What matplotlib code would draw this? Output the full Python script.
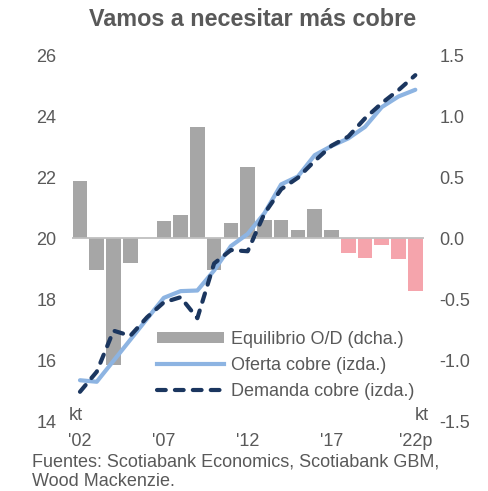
import matplotlib
matplotlib.use("Agg")
import matplotlib.pyplot as plt
from matplotlib.patches import Patch
from matplotlib.lines import Line2D

plt.rcParams['font.family'] = ['Liberation Sans', 'DejaVu Sans']

years = list(range(2002, 2023))
tick_labels = ["'02", "'07", "'12", "'17", "'22p"]
balance = [0.47, -0.26, -1.04, -0.20, 0.0, 0.14, 0.19, 0.92, -0.26, 0.13, 0.59,
           0.15, 0.15, 0.07, 0.24, 0.07, -0.12, -0.16, -0.05, -0.17, -0.43]
supply = [15.34, 15.29, 15.98, 16.67, 17.36, 18.05, 18.27, 18.29, 18.95, 19.75, 20.15,
          20.83, 21.78, 22.04, 22.74, 23.04, 23.29, 23.67, 24.32, 24.67, 24.89]
demand = [14.96, 15.62, 16.97, 16.80, 17.41, 17.90, 18.07, 17.38, 19.18, 19.62, 19.58,
          20.82, 21.62, 22.00, 22.55, 23.05, 23.35, 23.95, 24.45, 24.88, 25.37]
projection_start = 2018

TXT = '#595959'
GRAY = '#A6A6A6'
PINK = '#F5A4AC'
LIGHT = '#8DB4E2'
DARK = '#1B365F'
FS = 13

W, H = 489, 491
fig = plt.figure(figsize=(W / 100, H / 100), dpi=100)

def fx(px):
    return px / W

def fy(py):
    return 1 - py / H

left_px, right_px, top_px, bot_px = 71.6, 423.7, 56, 421
ax = fig.add_axes([fx(left_px), fy(bot_px), fx(right_px - left_px), (bot_px - top_px) / H])
ax2 = ax.twinx()

x = list(range(len(years)))
colors = [PINK if y >= projection_start else GRAY for y in years]
ax2.bar(x, balance, width=0.87, color=colors, zorder=1)
ax2.axhline(0, color='#BFBFBF', lw=1.3, zorder=2)
ax2.set_ylim(-1.5, 1.5)
ax2.set_yticks([-1.5, -1.0, -0.5, 0.0, 0.5, 1.0, 1.5])
ax2.set_yticklabels([f"{v:.1f}" for v in [-1.5, -1.0, -0.5, 0.0, 0.5, 1.0, 1.5]])

ax.plot(x, supply, color=LIGHT, lw=3.0, solid_capstyle='round', solid_joinstyle='round', zorder=3)
ax.plot(x, demand, color=DARK, lw=3.0, dashes=(2.1, 2.2), dash_capstyle='round',
        dash_joinstyle='round', zorder=4)
ax.set_ylim(14, 26)
ax.set_yticks(range(14, 27, 2))
ax.set_xlim(-0.5, len(years) - 0.5)
ax.set_xticks([0, 5, 10, 15, 20])
ax.set_xticklabels(tick_labels)

ax.set_zorder(ax2.get_zorder() + 1)
ax.patch.set_visible(False)

for a in (ax, ax2):
    for s in a.spines.values():
        s.set_visible(False)
ax.tick_params(axis='y', length=0, pad=11, labelsize=FS, labelcolor=TXT)
ax.tick_params(axis='x', length=0, pad=9, labelsize=FS, labelcolor=TXT)
ax2.tick_params(axis='y', length=0, pad=11.5, labelsize=FS, labelcolor=TXT)

handles = [Patch(facecolor=GRAY, edgecolor='none'),
           Line2D([], [], color=LIGHT, lw=3.0),
           Line2D([], [], color=DARK, lw=3.0, dashes=(2.1, 2.2), dash_capstyle='round')]
labels = ['Equilibrio O/D (dcha.)', 'Oferta cobre (izda.)', 'Demanda cobre (izda.)']
leg = ax.legend(handles, labels, loc='center left', bbox_to_anchor=(fx(156.7), fy(365.5)),
                bbox_transform=fig.transFigure, frameon=False, fontsize=FS,
                handlelength=3.7, handletextpad=0.42, labelspacing=0.5,
                borderpad=0, borderaxespad=0, handleheight=0.5)
for t in leg.get_texts():
    t.set_color(TXT)

fig.text(fx(252.5), fy(19), 'Vamos a necesitar más cobre', ha='center', va='center',
         fontsize=16.8, fontweight='bold', color=TXT)
fig.text(fx(75.5), fy(416), 'kt', ha='center', va='center', fontsize=FS, color=TXT)
fig.text(fx(421.5), fy(416), 'kt', ha='center', va='center', fontsize=FS, color=TXT)
fig.text(fx(31.7), fy(461.7), 'Fuentes: Scotiabank Economics, Scotiabank GBM,',
         ha='left', va='center', fontsize=FS, color=TXT)
fig.text(fx(31.7), fy(481.5), 'Wood Mackenzie.', ha='left', va='center', fontsize=FS, color=TXT)

fig.savefig('out.png', dpi=100, facecolor='white')
